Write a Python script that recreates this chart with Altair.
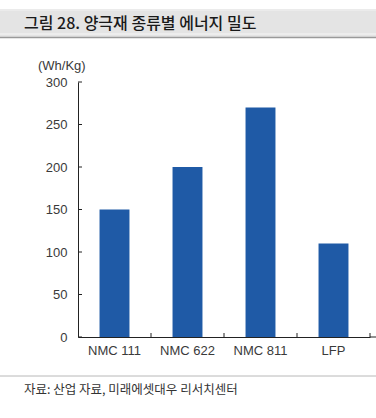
import altair as alt
import pandas as pd

categories = ["NMC 111", "NMC 622", "NMC 811", "LFP"]
energy = [150, 200, 270, 110]
y_ticks = [0, 50, 100, 150, 200, 250, 300]
x_boundaries = [1, 2, 3, 4]
title_text = ["그림 28. 양극재 종류별 에너지 밀도"]
unit_text = ["(Wh/Kg)"]
source_text = ["자료: 산업 자료, 미래에셋대우 리서치센터"]

W, H = 292, 255
LEFT, TOP = 78, 82
TOTAL_W, TOTAL_H = 376, 418
KR = "Noto Sans CJK KR"
LAT = "Liberation Sans"
AX = "#222222"

df = pd.DataFrame({"cat": categories, "val": energy})
ydf = pd.DataFrame({"tick": y_ticks})
xdf = pd.DataFrame({"b": x_boundaries})
tdf = pd.DataFrame({"t": title_text})
udf = pd.DataFrame({"t": unit_text})
sdf = pd.DataFrame({"t": source_text})

bars = alt.Chart(df).mark_bar(color="#1f5aa6").encode(
    x=alt.X("cat:N", sort=categories,
            scale=alt.Scale(paddingInner=0.59, paddingOuter=0.295),
            axis=alt.Axis(title=None, labelAngle=0, tickSize=0, domainColor=AX,
                          labelFont=LAT, labelFontSize=13, labelColor="#3a3a3a",
                          labelPadding=7)),
    y=alt.Y("val:Q", scale=alt.Scale(domain=[0, 300], nice=False),
            axis=alt.Axis(title=None, values=y_ticks, tickSize=0, grid=False,
                          domainColor=AX, labelFont=LAT, labelFontSize=13,
                          labelColor="#3a3a3a", labelPadding=11)),
)

yticks = alt.Chart(ydf).mark_rule(color=AX).encode(
    y=alt.Y("tick:Q", title=None),
    x=alt.value(0), x2=alt.value(4),
)

xticks = alt.Chart(xdf).mark_rule(color=AX).encode(
    x=alt.X("b:Q", scale=alt.Scale(domain=[0, 4], nice=False, zero=False), axis=None),
    y=alt.value(H - 4), y2=alt.value(H),
)

xext = alt.Chart(tdf).mark_rule(color=AX).encode(
    x=alt.value(W), x2=alt.value(TOTAL_W - LEFT), y=alt.value(H),
)

band = alt.Chart(tdf).mark_rect(color="#e4e4e4").encode(
    x=alt.value(-LEFT), x2=alt.value(TOTAL_W - LEFT),
    y=alt.value(9 - TOP), y2=alt.value(37 - TOP),
)
band_top = alt.Chart(tdf).mark_rule(color="#f2f2f2").encode(
    x=alt.value(-LEFT), x2=alt.value(TOTAL_W - LEFT), y=alt.value(10 - TOP),
)
band_inner = alt.Chart(tdf).mark_rule(color="#f6f6f6").encode(
    x=alt.value(-LEFT), x2=alt.value(TOTAL_W - LEFT), y=alt.value(34 - TOP),
)
band_bottom = alt.Chart(tdf).mark_rule(color="#9a9a9a", strokeWidth=1.5).encode(
    x=alt.value(-LEFT), x2=alt.value(TOTAL_W - LEFT), y=alt.value(37.5 - TOP),
)

title = alt.Chart(tdf).mark_text(
    font=KR, fontSize=16, fontWeight=500, color="#1a1a1a",
    align="left", baseline="middle",
).encode(x=alt.value(24 - LEFT), y=alt.value(23.5 - TOP), text="t:N")

unit = alt.Chart(udf).mark_text(
    font=LAT, fontSize=13, color="#3a3a3a", align="left", baseline="middle",
).encode(x=alt.value(38 - LEFT), y=alt.value(66 - TOP), text="t:N")

foot_line = alt.Chart(sdf).mark_rule(color="#b8b8b8").encode(
    x=alt.value(-LEFT), x2=alt.value(TOTAL_W - LEFT), y=alt.value(376 - TOP),
)
source = alt.Chart(sdf).mark_text(
    font=KR, fontSize=12.5, color="#333333", align="left", baseline="middle",
).encode(x=alt.value(24 - LEFT), y=alt.value(390 - TOP), text="t:N")

chart = alt.layer(
    band, band_top, band_inner, band_bottom, title, unit,
    bars, yticks, xticks, xext, foot_line, source,
).resolve_scale(x="independent").properties(
    width=W, height=H,
    autosize=alt.AutoSizeParams(type="none"),
    padding={"left": LEFT, "top": TOP, "right": TOTAL_W - LEFT - W,
             "bottom": TOTAL_H - TOP - H},
    background="white",
).configure_view(stroke=None)

chart.save("out.html", embed_options={"renderer": "svg", "actions": False})
